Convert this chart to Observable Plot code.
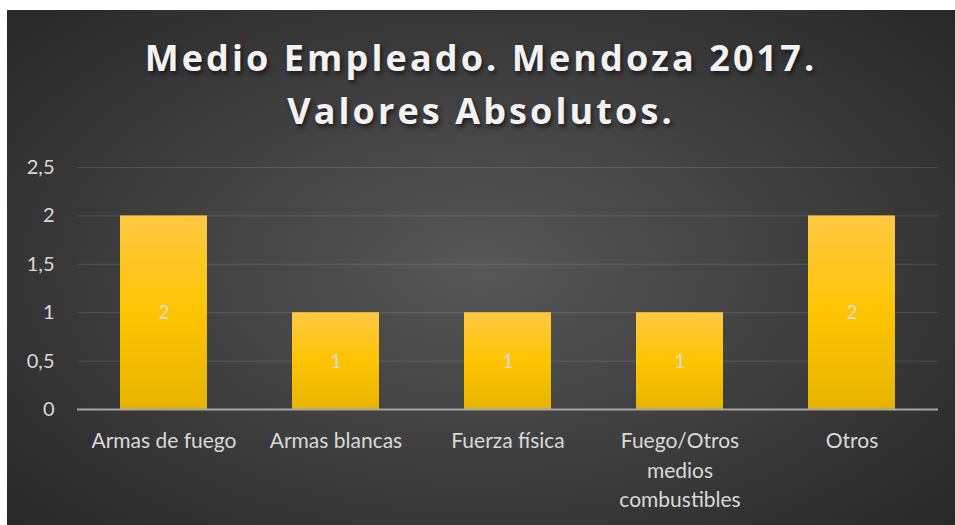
<!DOCTYPE html>
<html>
<head>
<meta charset="utf-8">
<script src="https://cdn.jsdelivr.net/npm/d3@7"></script>
<script src="https://cdn.jsdelivr.net/npm/@observablehq/plot@0.6"></script>
<style>
  html, body { margin: 0; padding: 0; background: #ffffff; }
  #page { position: relative; width: 955px; height: 525px; background: #ffffff; overflow: hidden; }
  #panel { position: absolute; left: 7px; top: 10px; width: 948px; height: 515px;
    background: radial-gradient(ellipse 70% 75% at 50% 50%, #575757 0%, #3c3c3c 55%, #262626 100%); }
  #title { position: absolute; left: 0; top: 21px; width: 948px; text-align: center;
    font-family: "Open Sans", sans-serif; font-weight: 700; font-size: 36px; line-height: 53px;
    letter-spacing: 3.1px; color: #f2f2f2; text-shadow: 2px 3px 4px rgba(0,0,0,0.55); }
  #chart { position: absolute; left: 0; top: 0; }
</style>
</head>
<body>
<div id="page">
  <div id="panel">
    <div id="chart"></div>
    <div id="title">Medio Empleado. Mendoza 2017.<br>Valores Absolutos.</div>
  </div>
</div>
<script>
const categories = ["Armas de fuego", "Armas blancas", "Fuerza física", "Fuego/Otros medios combustibles", "Otros"];
const tickLabels = ["Armas de fuego", "Armas blancas", "Fuerza física", "Fuego/Otros\nmedios\ncombustibles", "Otros"];
const values = [2, 1, 1, 1, 2];
const yTicks = [0, 0.5, 1, 1.5, 2, 2.5];

const data = categories.map((c, i) => ({category: c, value: values[i]}));
const labelOf = new Map(categories.map((c, i) => [c, tickLabels[i]]));
const fmt = d => String(d).replace(".", ",");

const defs = () => {
  const ns = "http://www.w3.org/2000/svg";
  const g = document.createElementNS(ns, "defs");
  g.innerHTML = `
    <linearGradient id="barGrad" x1="0" y1="0" x2="0" y2="1">
      <stop offset="0" stop-color="#ffc843"/>
      <stop offset="0.5" stop-color="#ffc400"/>
      <stop offset="1" stop-color="#e6b400"/>
    </linearGradient>
    <filter id="barShadow" x="-20%" y="-10%" width="140%" height="120%">
      <feDropShadow dx="0" dy="2" stdDeviation="3" flood-color="#000" flood-opacity="0.45"/>
    </filter>`;
  return g;
};

const chart = Plot.plot({
  width: 948,
  height: 515,
  marginLeft: 70,
  marginRight: 17,
  marginTop: 157,
  marginBottom: 116,
  style: {background: "transparent", fontFamily: "Lato, sans-serif", color: "#d9d9d9"},
  x: {domain: categories, paddingInner: 0.495, paddingOuter: 0.2475, label: null},
  y: {domain: [0, 2.5], label: null},
  marks: [
    defs,
    Plot.gridY(yTicks, {stroke: "#ffffff", strokeOpacity: 0.12, strokeWidth: 1}),
    Plot.axisY(yTicks, {tickSize: 0, tickPadding: 23, tickFormat: fmt, fontSize: 20, fill: "#d9d9d9", label: null}),
    Plot.axisX({tickSize: 0, tickPadding: 18, tickFormat: d => labelOf.get(d), fontSize: 21, lineHeight: 1.4, fill: "#d9d9d9", label: null}),
    Plot.barY(data, {x: "category", y: "value", fill: "url(#barGrad)", style: {filter: "url(#barShadow)"}}),
    Plot.ruleY([0], {stroke: "#a6a6a6", strokeWidth: 2}),
    Plot.text(data, {x: "category", y: d => d.value / 2, text: d => fmt(d.value), fill: "#d9d9d9", fontSize: 20})
  ]
});
document.getElementById("chart").appendChild(chart);
</script>
</body>
</html>
